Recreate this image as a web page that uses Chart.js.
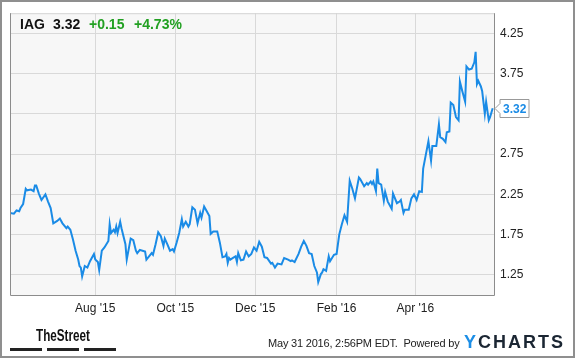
<!DOCTYPE html>
<html>
<head>
<meta charset="utf-8">
<script src="https://cdn.jsdelivr.net/npm/chart.js@4.4.1/dist/chart.umd.min.js"></script>
<style>
body { margin: 0; background: #fff; }
#wrap { position: relative; width: 575px; height: 358px; overflow: hidden; font-family: "Liberation Sans", Arial, sans-serif; }
#frame { position: absolute; left: 0; top: 0; width: 575px; height: 358px; box-sizing: border-box; border: 2px solid #8f8f8f; pointer-events: none; }
canvas { position: absolute; left: 0; top: 0; }
.t { position: absolute; white-space: nowrap; }
.head { font-weight: bold; font-size: 14px; line-height: 14px; top: 17px; color: #111; }
.green { color: #22a022; }
.bar { position: absolute; top: 348px; width: 32px; height: 3px; background: #222; }
</style>
</head>
<body>
<div id="wrap">
    <canvas id="myChart" width="575" height="358"></canvas>
    <span class="t head" style="left:20px">IAG</span>
    <span class="t head" style="left:53px">3.32</span>
    <span class="t head green" style="left:89px">+0.15</span>
    <span class="t head green" style="left:134px">+4.73%</span>

    <span class="t" style="left:36px; top:328px; font-size:16px; line-height:16px; font-weight:bold; color:#111; transform:scaleX(0.73); transform-origin:left top;">TheStreet</span>
    <div class="bar" style="left:10px"></div>
    <div class="bar" style="left:47px"></div>
    <div class="bar" style="left:84px"></div>

    <span class="t" style="left:268px; top:338px; font-size:11px; line-height:11px; letter-spacing:-0.2px; color:#222;">May 31 2016, 2:56PM EDT.&nbsp; Powered by</span>
    <span class="t" style="left:464px; top:333px; font-size:18px; line-height:18px; font-weight:bold; letter-spacing:2px;"><span style="color:#1c8ee6">Y</span><span style="color:#1b2633">CHARTS</span></span>
    <div id="frame"></div>
</div>
<script>
// days counted from Aug 1 2015
const days = [
    -65,-62,-60,-58,-57,-55,-53,-52,-49,-47,
    -46,-45,-43,-41,-38,-36,-34,-32,-29,-27,
    -25,-22,-21,-19,-17,-15,-13,-12,-11,-10,
    -8,-6,-4,-1,0,2,3,5,7,10,
    11,12,14,15,16,17,19,20,23,24,
    27,29,31,32,34,36,38,39,41,43,
    44,46,48,50,52,53,55,57,59,60,
    62,64,66,67,69,71,72,74,76,78,
    80,81,83,85,87,88,90,93,95,97,
    99,100,101,102,103,105,107,108,109,111,
    113,115,117,119,121,123,125,127,129,131,
    134,135,137,139,142,144,147,149,150,152,
    155,157,159,161,163,165,167,169,170,172,
    173,174,176,178,179,182,184,186,188,190,
    192,194,196,198,201,202,205,207,208,210,
    211,212,214,215,216,218,220,221,223,226,
    227,230,232,233,235,236,239,241,243,245,
    247,249,250,252,254,256,257,260,262,263,
    265,267,268,270,271,273,275,277,278,280,
    282,283,285,287,289,290,291,292,294,295,
    297,298,300,301,303
];

// IAG price
const prices = [
    2.02,2.01,2.05,2.04,2.08,2.13,2.32,2.30,2.31,2.29,
    2.36,2.36,2.26,2.18,2.25,2.16,2.08,1.89,1.92,1.95,
    1.89,1.83,1.85,1.81,1.69,1.55,1.44,1.36,1.34,1.23,
    1.36,1.34,1.42,1.51,1.44,1.41,1.31,1.55,1.59,1.67,
    1.88,1.77,1.81,1.78,1.85,1.77,1.91,1.83,1.63,1.44,
    1.70,1.68,1.55,1.52,1.56,1.55,1.54,1.44,1.48,1.52,
    1.50,1.63,1.78,1.73,1.61,1.70,1.63,1.55,1.57,1.54,
    1.65,1.77,1.94,1.85,1.91,1.85,1.88,2.09,2.06,1.89,
    2.02,1.96,2.10,2.04,1.98,1.76,1.79,1.79,1.65,1.47,
    1.48,1.51,1.40,1.46,1.44,1.46,1.48,1.41,1.52,1.43,
    1.44,1.54,1.48,1.51,1.59,1.55,1.66,1.60,1.47,1.46,
    1.39,1.40,1.34,1.39,1.38,1.46,1.44,1.42,1.43,1.41,
    1.51,1.60,1.67,1.61,1.52,1.51,1.36,1.28,1.16,1.26,
    1.28,1.32,1.30,1.48,1.42,1.50,1.51,1.75,1.88,1.99,
    1.91,2.42,2.32,2.20,2.46,2.44,2.35,2.39,2.37,2.41,
    2.38,2.41,2.29,2.57,2.39,2.37,2.17,2.28,2.16,2.07,
    2.26,2.14,2.16,2.18,2.02,2.06,2.06,2.20,2.25,2.18,
    2.29,2.28,2.57,2.74,2.91,2.67,2.85,2.85,3.12,2.96,
    2.94,2.90,3.02,3.03,3.39,3.36,3.21,3.17,3.65,3.52,
    3.40,3.84,3.80,3.81,3.89,4.02,3.62,3.66,3.59,3.53,
    3.25,3.40,3.17,3.21,3.32
];

const xTickDays = [0, 61, 122, 184, 244];
const xTickLabels = ["Aug '15", "Oct '15", "Dec '15", "Feb '16", "Apr '16"];
const yTicks = [1.25, 1.75, 2.25, 2.75, 3.25, 3.75, 4.25];

const lineColor = '#1a8be6';

// grey plot background + borders + last price tag
const plotDeco = {
    id: 'plotDeco',
    beforeDraw(chart) {
        const a = chart.chartArea;
        const ctx = chart.ctx;
        ctx.save();
        ctx.fillStyle = '#f7f7f7';
        ctx.fillRect(a.left, a.top, a.right - a.left, a.bottom - a.top);
        ctx.restore();
    },
    afterDraw(chart) {
        const a = chart.chartArea;
        const ctx = chart.ctx;
        ctx.save();
        ctx.lineWidth = 1;
        ctx.strokeStyle = '#d6d6d6';
        ctx.beginPath();
        ctx.moveTo(a.left, a.top + 0.5);
        ctx.lineTo(a.right, a.top + 0.5);
        ctx.stroke();
        ctx.strokeStyle = '#8c8c8c';
        ctx.beginPath();
        ctx.moveTo(a.left + 0.5, a.top);
        ctx.lineTo(a.left + 0.5, a.bottom + 0.5);
        ctx.lineTo(a.right + 0.5, a.bottom + 0.5);
        ctx.lineTo(a.right + 0.5, a.top);
        ctx.stroke();

        // price tag on the right axis
        const last = prices[prices.length - 1];
        const y = Math.round(chart.scales.y.getPixelForValue(last)) + 0.5;
        const x = a.right + 1;
        ctx.beginPath();
        ctx.moveTo(x, y);
        ctx.lineTo(x + 5, y - 5);
        ctx.lineTo(x + 5, y - 9);
        ctx.lineTo(x + 34, y - 9);
        ctx.lineTo(x + 34, y + 9);
        ctx.lineTo(x + 5, y + 9);
        ctx.lineTo(x + 5, y + 5);
        ctx.closePath();
        ctx.fillStyle = '#fff';
        ctx.fill();
        ctx.strokeStyle = '#999';
        ctx.stroke();
        ctx.fillStyle = lineColor;
        ctx.font = 'bold 12px "Liberation Sans", Arial, sans-serif';
        ctx.textBaseline = 'middle';
        ctx.fillText(last.toFixed(2), x + 8, y + 1);
        ctx.restore();
    }
};

function showGraph() {
    let points = [];
    for (let i = 0; i < days.length; i++) {
        points.push({x: days[i], y: prices[i]});
    }

    const ctx = document.getElementById('myChart').getContext('2d');
    const myChart = new Chart(ctx, {
        type: 'line',
        data: {
            datasets: [{
                label: 'IAG',
                data: points,
                borderColor: lineColor,
                borderWidth: 2,
                pointRadius: 0,
                tension: 0,
                fill: false
            }]
        },
        options: {
            responsive: false,
            animation: false,
            devicePixelRatio: 1,
            layout: { padding: { left: 10, top: 10, right: 0, bottom: 0 } },
            plugins: {
                legend: { display: false },
                tooltip: { enabled: false }
            },
            scales: {
                x: {
                    type: 'linear',
                    min: -65,
                    max: 304,
                    afterBuildTicks: function(scale) {
                        scale.ticks = xTickDays.map(v => ({value: v}));
                    },
                    afterFit: function(scale) { scale.height = 63; },
                    ticks: {
                        autoSkip: false,
                        maxRotation: 0,
                        padding: 6,
                        color: '#222',
                        font: { family: '"Liberation Sans", Arial, sans-serif', size: 12 },
                        callback: function(value, index) { return xTickLabels[index]; }
                    },
                    grid: { color: '#d9d9d9', drawTicks: false },
                    border: { display: false }
                },
                y: {
                    position: 'right',
                    min: 1.0,
                    max: 4.5,
                    afterBuildTicks: function(scale) {
                        scale.ticks = yTicks.map(v => ({value: v}));
                    },
                    afterFit: function(scale) { scale.width = 81; },
                    ticks: {
                        padding: 6,
                        color: '#222',
                        font: { family: '"Liberation Sans", Arial, sans-serif', size: 12 },
                        callback: function(value) { return value.toFixed(2); }
                    },
                    grid: { color: '#d9d9d9', drawTicks: false },
                    border: { display: false }
                }
            }
        },
        plugins: [plotDeco]
    });
}

showGraph();
</script>
</body>
</html>
